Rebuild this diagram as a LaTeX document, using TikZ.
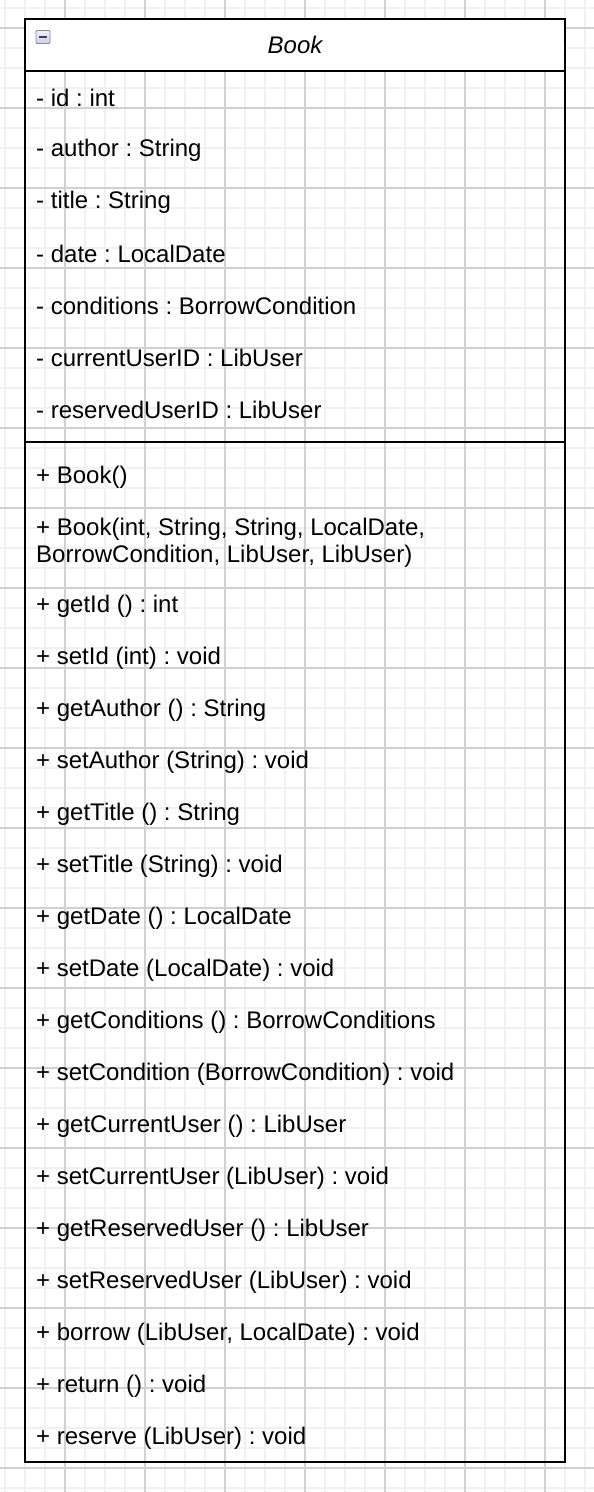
\documentclass[tikz,border=0pt]{standalone}
\usepackage{fontspec}
\setmainfont{Liberation Sans}
\frenchspacing
\begin{document}
\begin{tikzpicture}[x=1pt,y=-1pt,
  minorgrid/.style={draw=black!6,line width=1.3pt},
  majorgrid/.style={draw=black!18,line width=1.3pt},
  umlbox/.style={draw=black,line width=2pt},
  member/.style={anchor=west,inner sep=0pt,font=\fontsize{24}{27}\selectfont,align=left},
  titletext/.style={inner sep=0pt,font=\fontsize{24}{27}\selectfont\itshape}]
\useasboundingbox (0,0) rectangle (594,1492);
\fill[white] (0,0) rectangle (594,1492);
% grid
\foreach \x in {5,25,...,594} \draw[minorgrid] (\x,0) -- (\x,1492);
\foreach \y in {8,28,...,1492} \draw[minorgrid] (0,\y) -- (594,\y);
\foreach \x in {65,145,...,594} \draw[majorgrid] (\x,0) -- (\x,1492);
\foreach \y in {28,108,...,1492} \draw[majorgrid] (0,\y) -- (594,\y);
% class box
\fill[white] (25,19) rectangle (565,71);
\draw[umlbox] (25,19) rectangle (565,1462);
\coordinate (hl) at (25,71); \coordinate (hr) at (565,71);
\coordinate (sl) at (25,442); \coordinate (sr) at (565,442);
\draw[line width=2pt] (hl) -- (hr);
\draw[line width=2pt] (sl) -- (sr);
% collapse icon
\node[draw=black!45,line width=0.8pt,rounded corners=1pt,top color=white!80!blue!30,bottom color=black!35!blue!20,minimum width=14pt,minimum height=13pt,inner sep=0pt] (icon) at (43,37) {};
\draw[line width=2pt,black!75] ([xshift=-4pt]icon.center) -- ([xshift=4pt]icon.center);
\node[titletext] (title) at (295,45) {Book};
% attributes
\node[member] (a1) at (36,98) {- id : int};
\node[member] (a2) at (36,150) {- author : String};
\node[member] (a3) at (36,202) {- title : String};
\node[member] (a4) at (36,254) {- date : LocalDate};
\node[member] (a5) at (36,306) {- conditions : BorrowCondition};
\node[member] (a6) at (36,358) {- currentUserID : LibUser};
\node[member] (a7) at (36,410) {- reservedUserID : LibUser};
% methods
\node[member] (m1) at (36,477) {+ Book()};
\node[member] (m2) at (36,543) {+ Book(int, String, String, LocalDate,\\BorrowCondition, LibUser, LibUser)};
\node[member] (m3) at (36,606) {+ getId () : int};
\node[member] (m4) at (36,658) {+ setId (int) : void};
\node[member] (m5) at (36,710) {+ getAuthor () : String};
\node[member] (m6) at (36,762) {+ setAuthor (String) : void};
\node[member] (m7) at (36,814) {+ getTitle () : String};
\node[member] (m8) at (36,866) {+ setTitle (String) : void};
\node[member] (m9) at (36,918) {+ getDate () : LocalDate};
\node[member] (m10) at (36,970) {+ setDate (LocalDate) : void};
\node[member] (m11) at (36,1022) {+ getConditions () : BorrowConditions};
\node[member] (m12) at (36,1074) {+ setCondition (BorrowCondition) : void};
\node[member] (m13) at (36,1126) {+ getCurrentUser () : LibUser};
\node[member] (m14) at (36,1178) {+ setCurrentUser (LibUser) : void};
\node[member] (m15) at (36,1230) {+ getReservedUser () : LibUser};
\node[member] (m16) at (36,1282) {+ setReservedUser (LibUser) : void};
\node[member] (m17) at (36,1334) {+ borrow (LibUser, LocalDate) : void};
\node[member] (m18) at (36,1386) {+ return () : void};
\node[member] (m19) at (36,1438) {+ reserve (LibUser) : void};
\end{tikzpicture}
\end{document}
